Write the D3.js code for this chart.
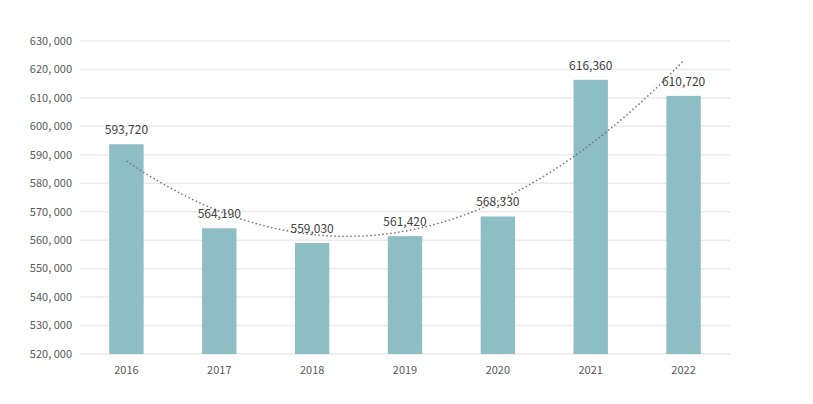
<!DOCTYPE html>
<html><head><meta charset="utf-8">
<script src="https://cdn.jsdelivr.net/npm/d3@7"></script>
<style>body{margin:0;background:#fff;font-family:"Microsoft YaHei","Noto Sans CJK SC","Open Sans",sans-serif;}</style>
</head><body><div id="chart"></div>
<script>
const years = ["2016", "2017", "2018", "2019", "2020", "2021", "2022"];
const values = [593720, 564190, 559030, 561420, 568330, 616360, 610720];
const yTicks = [520000, 530000, 540000, 550000, 560000, 570000, 580000, 590000, 600000, 610000, 620000, 630000];

const width = 813, height = 404;
const margin = {top: 41, right: 83, bottom: 50, left: 80};

const svg = d3.select("#chart").append("svg")
    .attr("width", width).attr("height", height);

const x = d3.scaleBand().domain(years)
    .range([margin.left, width - margin.right])
    .paddingInner(0.63).paddingOuter(0.315);

const y = d3.scaleLinear().domain([520000, 630000])
    .range([height - margin.bottom, margin.top]);

const fmt = v => d3.format(",")(v).replace(",", ", ");

// gridlines
svg.append("g").selectAll("line").data(yTicks).join("line")
    .attr("x1", margin.left).attr("x2", width - margin.right)
    .attr("y1", d => y(d)).attr("y2", d => y(d))
    .attr("stroke", "#ebebeb").attr("stroke-width", 1.5);

svg.append("g").selectAll("text").data(yTicks).join("text")
    .attr("x", 72).attr("y", d => y(d)).attr("dy", "0.35em")
    .attr("text-anchor", "end").attr("font-size", 11).attr("fill", "#595959")
    .text(fmt);

// bars
svg.append("g").selectAll("rect").data(values).join("rect")
    .attr("x", (d, i) => x(years[i]))
    .attr("y", d => y(d))
    .attr("width", x.bandwidth())
    .attr("height", d => y(520000) - y(d))
    .attr("fill", "#8dbec3");

// x axis labels
svg.append("g").selectAll("text").data(years).join("text")
    .attr("x", d => x(d) + x.bandwidth() / 2).attr("y", height - margin.bottom + 20)
    .attr("text-anchor", "middle").attr("font-size", 11).attr("fill", "#595959")
    .text(d => d);

// polynomial (order 2) trendline, least squares
const n = values.length;
const xs = d3.range(1, n + 1);
const S = k => d3.sum(xs, v => Math.pow(v, k));
const Sy = k => d3.sum(xs, (v, i) => Math.pow(v, k) * values[i]);
const A = [[n, S(1), S(2)], [S(1), S(2), S(3)], [S(2), S(3), S(4)]];
const B = [Sy(0), Sy(1), Sy(2)];
const det = m => m[0][0]*(m[1][1]*m[2][2]-m[1][2]*m[2][1]) - m[0][1]*(m[1][0]*m[2][2]-m[1][2]*m[2][0]) + m[0][2]*(m[1][0]*m[2][1]-m[1][1]*m[2][0]);
const D = det(A);
const coef = [0, 1, 2].map(c => det(A.map((row, r) => row.map((v, k) => k === c ? B[r] : v))) / D);
const trend = t => coef[0] + coef[1] * t + coef[2] * t * t;
const pts = d3.range(1, n + 0.001, 0.05).map(t => [
    x(years[0]) + x.bandwidth() / 2 + (t - 1) * x.step(), y(trend(t))]);
svg.append("path").attr("d", d3.line()(pts))
    .attr("fill", "none").attr("stroke", "#777").attr("stroke-width", 1.5)
    .attr("stroke-dasharray", "1.5,2.5");

// value labels
svg.append("g").selectAll("text").data(values).join("text")
    .attr("x", (d, i) => x(years[i]) + x.bandwidth() / 2)
    .attr("y", d => y(d) - 10)
    .attr("text-anchor", "middle").attr("font-size", 12).attr("fill", "#404040")
    .text(d => d3.format(",")(d));
</script></body></html>
